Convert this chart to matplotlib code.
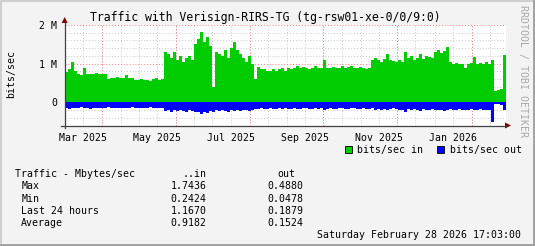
import numpy as np
import pandas as pd
import matplotlib
matplotlib.use('Agg')
import matplotlib.pyplot as plt
import matplotlib.dates as mdates
from matplotlib.patches import Rectangle, Polygon

# data (Mbit/s), one value per ~2.5 days
traffic_in = [
    0.78, 0.85, 1.05, 0.80, 0.72, 0.70, 0.90, 0.74, 0.74, 0.72,
    0.75, 0.73, 0.74, 0.72, 0.60, 0.63, 0.62, 0.65, 0.63, 0.62,
    0.70, 0.63, 0.62, 0.57, 0.58, 0.60, 0.57, 0.57, 0.55, 0.60,
    0.63, 0.58, 0.60, 1.30, 1.25, 1.15, 1.30, 1.10, 1.20, 1.05,
    1.15, 1.20, 1.10, 1.50, 1.65, 1.83, 1.55, 1.70, 1.45, 0.40,
    1.30, 1.25, 1.20, 1.35, 1.15, 1.40, 1.57, 1.35, 1.25, 1.15,
    1.05, 1.20, 1.00, 0.60, 0.92, 0.85, 0.85, 0.80, 0.82, 0.85,
    0.80, 0.85, 0.90, 0.82, 0.90, 0.85, 0.90, 0.95, 0.88, 0.92,
    0.90, 0.85, 0.90, 0.95, 0.88, 0.90, 1.10, 0.88, 0.90, 0.92,
    0.88, 0.90, 0.95, 0.90, 0.92, 0.95, 0.90, 0.88, 0.92, 0.90,
    0.85, 0.88, 1.10, 1.15, 1.10, 1.05, 1.12, 1.25, 1.10, 1.08,
    1.05, 1.10, 1.05, 1.30, 1.15, 1.20, 1.10, 1.15, 1.25, 1.12,
    1.20, 1.18, 1.15, 1.30, 1.35, 1.28, 1.32, 1.42, 1.05, 1.00,
    1.02, 0.98, 1.00, 0.90, 1.00, 1.02, 1.17, 1.00, 1.02, 1.00,
    1.05, 1.00, 1.10, 0.30, 0.32, 0.35, 1.22,
]
traffic_out = [
    -0.15, -0.17, -0.14, -0.16, -0.15, -0.13, -0.16, -0.15, -0.17, -0.14,
    -0.15, -0.16, -0.14, -0.15, -0.13, -0.16, -0.15, -0.14, -0.16, -0.15,
    -0.14, -0.15, -0.13, -0.15, -0.14, -0.16, -0.15, -0.14, -0.13, -0.15,
    -0.16, -0.14, -0.15, -0.22, -0.20, -0.24, -0.21, -0.23, -0.20, -0.22,
    -0.25, -0.21, -0.23, -0.26, -0.24, -0.30, -0.25, -0.27, -0.22, -0.24,
    -0.21, -0.23, -0.20, -0.22, -0.24, -0.21, -0.23, -0.20, -0.22, -0.21,
    -0.20, -0.22, -0.19, -0.18, -0.17, -0.16, -0.18, -0.17, -0.15, -0.17,
    -0.18, -0.16, -0.17, -0.15, -0.18, -0.17, -0.16, -0.18, -0.17, -0.16,
    -0.15, -0.17, -0.18, -0.16, -0.17, -0.15, -0.19, -0.17, -0.16, -0.18,
    -0.17, -0.15, -0.16, -0.18, -0.17, -0.16, -0.15, -0.17, -0.18, -0.16,
    -0.17, -0.18, -0.16, -0.19, -0.18, -0.20, -0.17, -0.19, -0.18, -0.16,
    -0.18, -0.20, -0.19, -0.24, -0.18, -0.20, -0.17, -0.19, -0.22, -0.18,
    -0.20, -0.19, -0.18, -0.21, -0.20, -0.19, -0.22, -0.20, -0.18, -0.19,
    -0.20, -0.18, -0.19, -0.21, -0.19, -0.18, -0.20, -0.19, -0.18, -0.19,
    -0.20, -0.19, -0.50, -0.05, -0.05, -0.06, -0.20,
]
x_labels = ['Mar 2025', 'May 2025', 'Jul 2025', 'Sep 2025', 'Nov 2025', 'Jan 2026']
x_label_dates = ['2025-03-16', '2025-05-16', '2025-07-16', '2025-09-16', '2025-11-16', '2026-01-16']
y_ticks = [0, 1, 2]
y_labels = ['0', '1 M', '2 M']

stat_rows = ['Max', 'Min', 'Last 24 hours', 'Average']
stat_in = ['1.7436', '0.2424', '1.1670', '0.9182']
stat_out = ['0.4880', '0.0478', '0.1879', '0.1524']

start = pd.Timestamp('2025-02-28 17:03')
end = pd.Timestamp('2026-02-28 17:03')

mono = 'DejaVu Sans Mono'
fs = 7.1

fig = plt.figure(figsize=(5.35, 2.46), dpi=100, facecolor='#F3F3F3')
W, H = 535, 246
ax = fig.add_axes([64.7 / W, (H - 125.5) / H, 440.8 / W, 100.5 / H])
ax.set_facecolor('white')

edges = mdates.date2num(pd.date_range(start, end, periods=len(traffic_in) + 1))
ax.fill_between(edges, 0, np.append(traffic_in, traffic_in[-1]), step='post',
                color='#00CC00', lw=0, zorder=2)
ax.fill_between(edges, 0, np.append(traffic_out, traffic_out[-1]), step='post',
                color='#0000FF', lw=0, zorder=2)

# grid
for d in pd.date_range('2025-03-01', '2026-02-28', freq='SMS-16'):
    ax.axvline(mdates.date2num(d), color='#c8c8c8', lw=0.7, ls=(0, (1, 2)), zorder=0.5)
for d in pd.date_range('2025-04-01', '2026-02-01', freq='2MS'):
    ax.axvline(mdates.date2num(d), color='#f08080', lw=0.7, ls=(0, (1, 2)), zorder=0.6)
for v in np.arange(-0.6, 2.01, 0.2):
    if abs(v - round(v)) > 0.01:
        ax.axhline(v, color='#c8c8c8', lw=0.7, ls=(0, (1, 2)), zorder=0.5)
for v in y_ticks:
    ax.axhline(v, color='#f08080', lw=0.7, ls=(0, (1, 2)), zorder=0.6)

ax.set_xlim(mdates.date2num(start), mdates.date2num(end))
ax.set_ylim(-0.6, 2.0)
for s in ax.spines.values():
    s.set_visible(False)
ax.set_xticks(mdates.date2num(pd.to_datetime(x_label_dates)), x_labels)
ax.set_yticks(y_ticks, y_labels)
ax.tick_params(length=0, labelsize=fs, pad=5.2)
for lab in ax.get_xticklabels() + ax.get_yticklabels():
    lab.set_family(mono)

# overlay in pixel coordinates
ov = fig.add_axes([0, 0, 1, 1], facecolor='none')
ov.set_xlim(0, W)
ov.set_ylim(H, 0)
ov.axis('off')

# frame
ov.plot([0.5, 0.5, W - 0.5], [H - 0.5, 0.5, 0.5], color='#CFCFCF', lw=1.5)
ov.plot([0.5, W - 1, W - 1], [H - 1, H - 1, 0.5], color='#9E9E9E', lw=2)

# axes with arrows
ov.plot([61, 506], [125.5, 125.5], color='#404040', lw=0.9)
ov.plot([64.7, 64.7], [127.5, 22], color='#404040', lw=0.9)
ov.add_patch(Polygon([[61.7, 23], [67.7, 23], [64.7, 17]], closed=True, color='#800000', lw=0))
ov.add_patch(Polygon([[505, 122.5], [505, 128.5], [511, 125.5]], closed=True, color='#800000', lw=0))

ov.text(265.5, 17, 'Traffic with Verisign-RIRS-TG (tg-rsw01-xe-0/0/9:0)',
        family=mono, fontsize=8.3, ha='center', va='center')
ov.text(11, 73.5, 'bits/sec', family=mono, fontsize=fs, rotation=90,
        ha='center', va='center')
ov.text(523, 5, 'RRDTOOL / TOBI OETIKER', family=mono, fontsize=fs, rotation=270,
        ha='center', va='top', color='#A8A8A8')

# legend
ov.add_patch(Rectangle((344.5, 146), 7, 7, facecolor='#00CC00', edgecolor='black', lw=0.6))
ov.text(357, 149.5, 'bits/sec in', family=mono, fontsize=fs, va='center')
ov.add_patch(Rectangle((436.5, 146), 7, 7, facecolor='#0000FF', edgecolor='black', lw=0.6))
ov.text(449.5, 149.5, 'bits/sec out', family=mono, fontsize=fs, va='center')

# stats
ov.text(15.4, 174.3, 'Traffic - Mbytes/sec', family=mono, fontsize=fs, va='center')
ov.text(206.4, 174.3, '..in', family=mono, fontsize=fs, va='center', ha='right')
ov.text(295.5, 174.3, 'out', family=mono, fontsize=fs, va='center', ha='right')
for i, name in enumerate(stat_rows):
    y = 186.3 + i * 12.35
    ov.text(21.2, y, name, family=mono, fontsize=fs, va='center')
    ov.text(206.4, y, stat_in[i], family=mono, fontsize=fs, va='center', ha='right')
    ov.text(303.7, y, stat_out[i], family=mono, fontsize=fs, va='center', ha='right')
ov.text(521, 235, 'Saturday February 28 2026 17:03:00', family=mono, fontsize=fs,
        va='center', ha='right')

fig.savefig('out.png', dpi=100, facecolor=fig.get_facecolor())
